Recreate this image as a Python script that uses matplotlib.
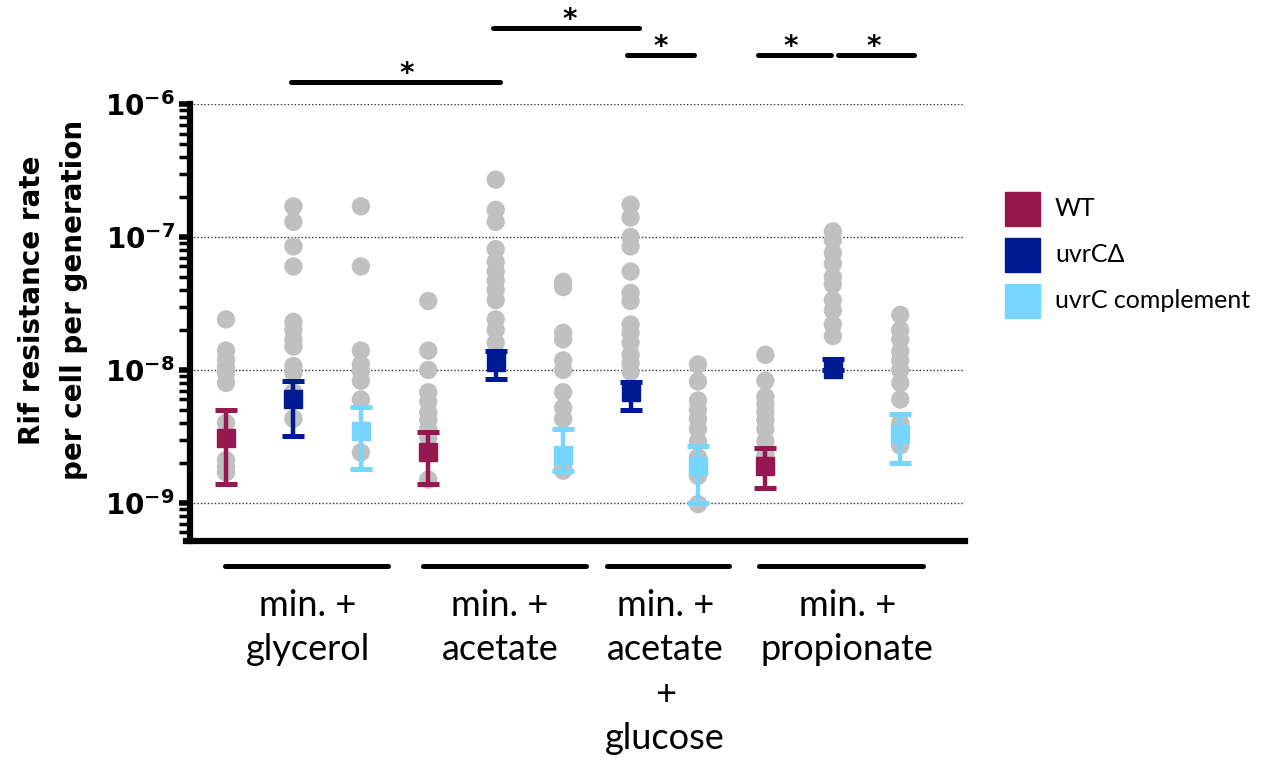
import matplotlib
matplotlib.use("Agg")
import matplotlib.pyplot as plt
import numpy as np
from matplotlib.ticker import LogLocator, FixedLocator, NullFormatter
from matplotlib.patches import Rectangle

# ---------------- data ----------------
groups = ["min. +\nglycerol", "min. +\nacetate", "min. +\nacetate\n+\nglucose", "min. +\npropionate"]
strains = ["WT", "uvrCΔ", "uvrC complement"]
colors = ["#97174F", "#001A94", "#76D6FF"]

# strain present in each group (column order)
group_strains = [[0, 1, 2], [0, 1, 2], [1, 2], [0, 1, 2]]

# individual measurements per column
gly_wt = [2.4e-8, 1.4e-8, 1.2e-8, 1.05e-8, 9.5e-9, 8e-9, 4e-9, 2.1e-9, 1.86e-9, 1.7e-9]
gly_del = [1.7e-7, 1.3e-7, 8.5e-8, 6e-8, 2.3e-8, 2e-8, 1.7e-8, 1.5e-8, 1.07e-8, 9.5e-9, 6.8e-9, 4.3e-9]
gly_comp = [1.7e-7, 6e-8, 1.4e-8, 1.1e-8, 9.8e-9, 8.3e-9, 6e-9, 2.4e-9]
ace_wt = [3.3e-8, 1.4e-8, 1e-8, 6.8e-9, 5.8e-9, 4.8e-9, 4.2e-9, 3.6e-9, 3.1e-9, 1.5e-9]
ace_del = [2.7e-7, 1.6e-7, 1.3e-7, 8.1e-8, 6.5e-8, 5.5e-8, 4.7e-8, 4e-8, 3.35e-8, 2.4e-8, 2e-8, 1.6e-8]
ace_comp = [4.6e-8, 4.2e-8, 1.9e-8, 1.7e-8, 1.18e-8, 1e-8, 6.8e-9, 5.2e-9, 4.3e-9, 1.86e-9, 1.75e-9]
acg_del = [1.75e-7, 1.4e-7, 1e-7, 8.5e-8, 5.5e-8, 3.8e-8, 3.3e-8, 2.2e-8, 1.9e-8, 1.6e-8, 1.3e-8, 1.12e-8, 9.7e-9]
acg_comp = [1.1e-8, 8.2e-9, 5.9e-9, 5e-9, 4.3e-9, 3.6e-9, 2.9e-9, 2.2e-9, 1.9e-9, 1.6e-9, 9.8e-10]
pro_wt = [1.3e-8, 8.3e-9, 6.3e-9, 5.5e-9, 4.8e-9, 4.2e-9, 3.6e-9, 2.9e-9, 2.3e-9]
pro_del = [1.1e-7, 9.5e-8, 7.6e-8, 6.3e-8, 5e-8, 4.4e-8, 3.35e-8, 2.8e-8, 2.2e-8, 1.8e-8]
pro_comp = [2.6e-8, 2e-8, 1.7e-8, 1.38e-8, 1.18e-8, 1e-8, 8e-9, 6e-9, 4e-9, 2.7e-9]

columns = [gly_wt, gly_del, gly_comp, ace_wt, ace_del, ace_comp, acg_del, acg_comp, pro_wt, pro_del, pro_comp]

# mean and asymmetric error bars per column
means = [3.1e-9, 6e-9, 3.5e-9, 2.4e-9, 1.15e-8, 2.3e-9, 6.8e-9, 1.9e-9, 1.9e-9, 1.02e-8, 3.3e-9]
err_low = [1.38e-9, 3.2e-9, 1.8e-9, 1.38e-9, 8.6e-9, 1.75e-9, 5e-9, 1e-9, 1.3e-9, 1.0e-8, 2e-9]
err_high = [5e-9, 8.2e-9, 5.3e-9, 3.4e-9, 1.4e-8, 3.6e-9, 8.1e-9, 2.7e-9, 2.6e-9, 1.2e-8, 4.7e-9]

# significance bars: column spans and heights
sig_from = [1, 4, 6, 8, 9]
sig_to = [4, 6, 7, 9, 10]
sig_heights = [1.47e-6, 3.76e-6, 2.35e-6, 2.35e-6, 2.35e-6]
sig_labels = ["*", "*", "*", "*", "*"]

yticks = [1e-9, 1e-8, 1e-7, 1e-6]
ytick_labels = [r"$\mathbf{10^{-9}}$", r"$\mathbf{10^{-8}}$", r"$\mathbf{10^{-7}}$", r"$\mathbf{10^{-6}}$"]

# ---------------- layout (positions in column units) ----------------
sig_x0 = [0.964, 3.96, 5.95, 7.89, 9.07]
sig_x1 = [4.065, 6.13, 6.94, 8.98, 10.21]
sig_star_x = [2.686, 5.10, 6.44, 8.38, 9.60]
under_x0 = [-0.015, 2.923, 5.653, 7.908]
under_x1 = [2.404, 5.341, 7.463, 10.341]
label_x = [1.217, 4.065, 6.513, 9.214]

# ---------------- figure ----------------
fig = plt.figure(figsize=(12.68, 7.65), dpi=100)
ax = fig.add_axes([190 / 1268, 1 - 541 / 765, (965 - 190) / 1268, (541 - 104) / 765])
ax.set_yscale("log")
ax.set_ylim(10 ** -9.286, 1e-6)
ax.set_xlim(-0.534, 10.96)

col_strain = [s for gs in group_strains for s in gs]
positions = np.arange(len(columns))

for i, vals in enumerate(columns):
    ax.scatter(np.full(len(vals), positions[i]), vals, s=175, color="#C0C0C0",
               edgecolors="none", zorder=2)

for i in range(len(columns)):
    c = colors[col_strain[i]]
    lo = means[i] - err_low[i]
    hi = err_high[i] - means[i]
    ax.errorbar(positions[i], means[i], yerr=[[lo], [hi]], fmt="s", color=c,
                markersize=13, elinewidth=3.2, capsize=8, capthick=3.6, zorder=3)

# grid
for yv in yticks:
    ax.axhline(yv, color="#333333", lw=1.0, ls=(0, (1, 1.5)), zorder=1)

# spines
for s in ["top", "right"]:
    ax.spines[s].set_visible(False)
ax.spines["left"].set_linewidth(4.5)
ax.spines["bottom"].set_linewidth(4.5)
ax.spines["bottom"].set_bounds(-0.6, 10.96)
ax.set_xticks([])
ax.yaxis.set_major_locator(FixedLocator(yticks))
ax.set_yticklabels(ytick_labels)
ax.yaxis.set_minor_locator(LogLocator(base=10, subs=np.arange(2, 10)))
ax.yaxis.set_minor_formatter(NullFormatter())
ax.tick_params(axis="y", which="major", length=8, width=4, labelsize=20, pad=3)
ax.tick_params(axis="y", which="minor", length=8, width=2.5)

fig.text(53 / 1268, 1 - 300 / 765, "Rif resistance rate\nper cell per generation",
         rotation=90, ha="center", va="center", multialignment="center",
         fontsize=20, fontweight="bold", family="DejaVu Sans", linespacing=1.6)

# group underlines & labels
xt = ax.get_xaxis_transform()
for g in range(len(groups)):
    ax.plot([under_x0[g], under_x1[g]], [-0.057, -0.057], color="black", lw=3.6,
            transform=xt, clip_on=False, solid_capstyle="round")
    ax.text(label_x[g], -0.110, groups[g], transform=xt,
            ha="center", va="top", fontsize=26, family="Lato", linespacing=1.42)

# significance bars
for k in range(len(sig_from)):
    h = sig_heights[k]
    ax.plot([sig_x0[k], sig_x1[k]], [h, h], color="black", lw=3.6, clip_on=False,
            solid_capstyle="round")
    ax.annotate(sig_labels[k], (sig_star_x[k], h), xytext=(0, 0), textcoords="offset points",
                ha="center", va="baseline", fontsize=20, fontweight="bold",
                family="DejaVu Sans", annotation_clip=False)

# legend
leg_y = [209, 255, 301]
for i, name in enumerate(strains):
    fig.patches.append(Rectangle((1005 / 1268, 1 - (leg_y[i] + 17) / 765), 35 / 1268, 34 / 765,
                                 transform=fig.transFigure, color=colors[i]))
    fig.text(1055 / 1268, 1 - leg_y[i] / 765, name, fontsize=18, family="Lato",
             va="center", ha="left")

fig.savefig("out.png", dpi=100)
